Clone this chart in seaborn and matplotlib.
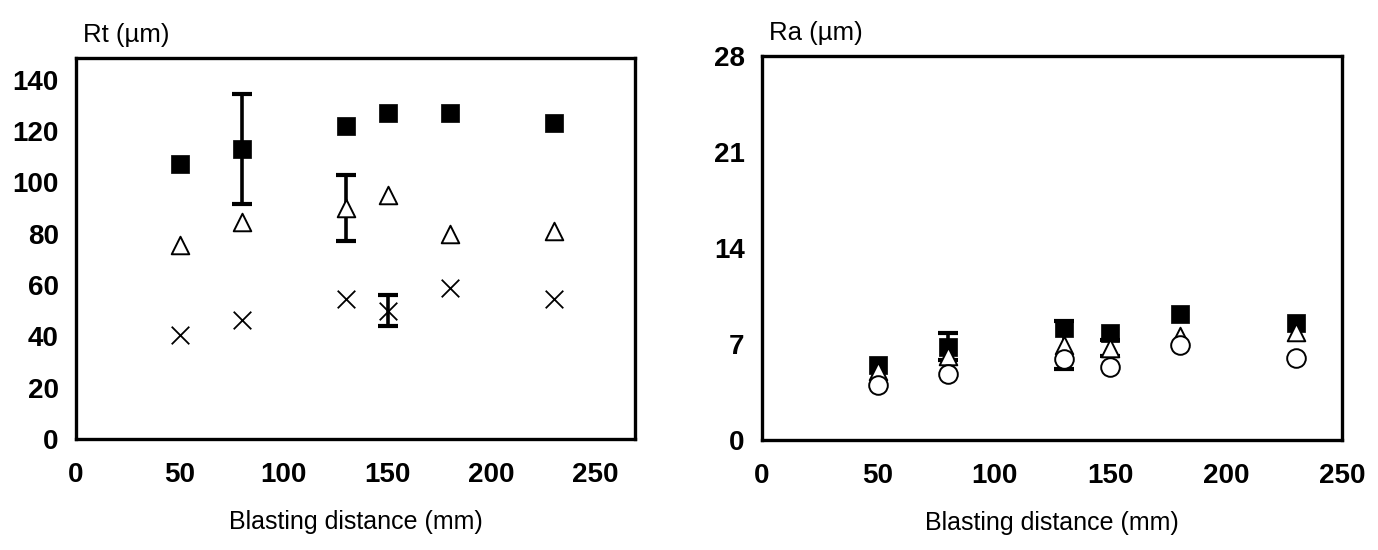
import matplotlib
matplotlib.use("Agg")
import matplotlib.pyplot as plt
import seaborn as sns
import pandas as pd
import numpy as np

sns.set_theme(style="white")
plt.rcParams["font.family"] = ["Liberation Sans", "DejaVu Sans"]

# Blasting distance (mm)
distance = [50, 80, 130, 150, 180, 230]

# Rt (µm) for the three series
rt_square = [107, 113, 122, 127, 127, 123]
rt_triangle = [75.5, 84.5, 90, 95, 80, 81]
rt_cross = [40.5, 46.5, 54.5, 50, 59, 54.5]

# Ra (µm) for the three series
ra_square = [5.5, 6.8, 8.2, 7.8, 9.2, 8.5]
ra_triangle = [5.0, 6.1, 6.95, 6.7, 7.6, 7.9]
ra_circle = [4.0, 4.8, 5.9, 5.3, 6.9, 6.0]

# Standard deviations shown as error bars (distance, value, deviation)
rt_err_square = (80, 113, 21.5)
rt_err_triangle = (130, 90, 13)
rt_err_cross = (150, 50, 6)
ra_err_square = (80, 6.8, 1.0)
ra_err_triangle = (130, 6.95, 1.75)
ra_err_triangle2 = (150, 6.7, 0.6)

rt_ticks = [0, 20, 40, 60, 80, 100, 120, 140]
ra_ticks = [0, 7, 14, 21, 28]
x_ticks = [0, 50, 100, 150, 200, 250]

fig = plt.figure(figsize=(13.78, 5.5), dpi=100)
ax1 = fig.add_axes([0.0552, 0.2018, 0.4057, 0.6927])
ax2 = fig.add_axes([0.553, 0.200, 0.4209, 0.698])

sq_kw = dict(marker="s", color="black", s=160, edgecolor="black", linewidth=0.5, zorder=4)
tri_kw = dict(marker="^", facecolor="white", edgecolor="black", s=160, linewidth=1.4, zorder=4)
x_kw = dict(marker="x", color="black", s=160, linewidth=1.3, zorder=4)
circ_kw = dict(marker="o", facecolor="white", edgecolor="black", s=180, linewidth=1.4, zorder=4)

err_kw = dict(fmt="none", ecolor="black", elinewidth=2.6, capsize=7, capthick=3, zorder=3)


def add_error(ax, spec):
    x, y, e = spec
    ax.errorbar([x], [y], yerr=[e], **err_kw)


# Left panel: Rt
add_error(ax1, rt_err_square)
add_error(ax1, rt_err_triangle)
add_error(ax1, rt_err_cross)
sns.scatterplot(x=distance, y=rt_square, ax=ax1, **sq_kw)
sns.scatterplot(x=distance, y=rt_triangle, ax=ax1, **tri_kw)
sns.scatterplot(x=distance, y=rt_cross, ax=ax1, **x_kw)
ax1.set_xlim(0, 269)
ax1.set_ylim(0, 148.5)
ax1.set_yticks(rt_ticks)

# Right panel: Ra
add_error(ax2, ra_err_square)
add_error(ax2, ra_err_triangle)
add_error(ax2, ra_err_triangle2)
sns.scatterplot(x=distance, y=ra_square, ax=ax2, **sq_kw)
sns.scatterplot(x=distance, y=ra_triangle, ax=ax2, **tri_kw)
sns.scatterplot(x=distance, y=ra_circle, ax=ax2, **circ_kw)
ax2.set_xlim(0, 250)
ax2.set_ylim(0, 28)
ax2.set_yticks(ra_ticks)

for ax, ylab in ((ax1, "Rt (µm)"), (ax2, "Ra (µm)")):
    ax.set_xticks(x_ticks)
    for sp in ax.spines.values():
        sp.set_visible(True)
        sp.set_color("black")
        sp.set_linewidth(2.4)
    ax.tick_params(axis="both", which="major", direction="inout", length=9,
                   width=2.2, color="black", labelsize=20, labelcolor="black")
    ax.tick_params(axis="x", pad=12)
    ax.tick_params(axis="y", pad=8)
    for lbl in ax.get_xticklabels() + ax.get_yticklabels():
        lbl.set_fontweight("bold")
    ax.set_xlabel("Blasting distance (mm)", fontsize=18, labelpad=16, color="black")
    ax.set_ylabel("")
    ax.text(0.012, 1.03, ylab, transform=ax.transAxes, fontsize=18.5,
            ha="left", va="bottom", color="black")
    ax.grid(False)

fig.savefig("out.png", dpi=100, facecolor="white")
